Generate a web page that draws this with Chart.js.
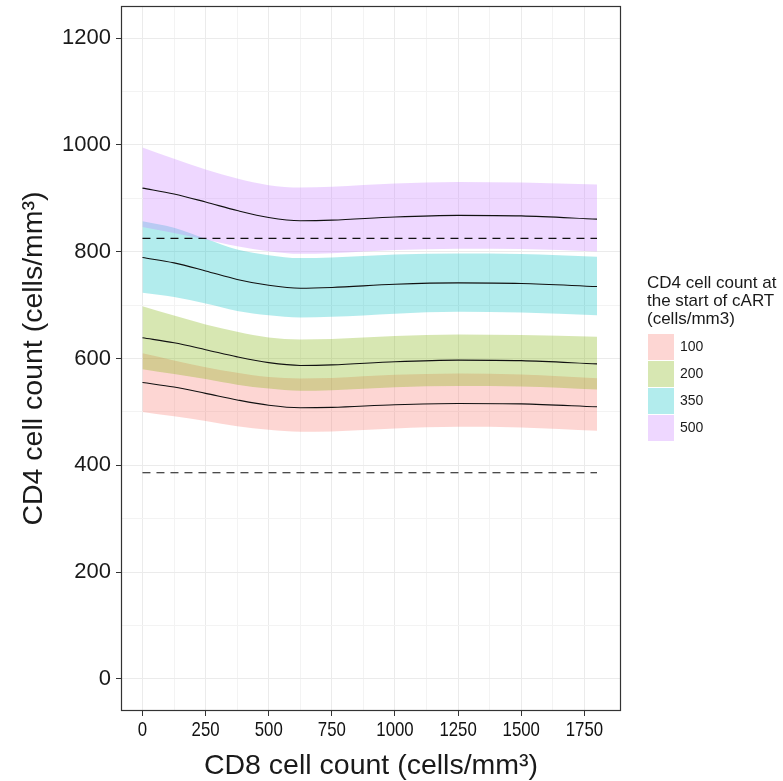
<!DOCTYPE html>
<html>
<head>
<meta charset="utf-8">
<script src="https://cdn.jsdelivr.net/npm/chart.js@4.4.1/dist/chart.umd.min.js"></script>
<style>
  html, body { margin: 0; padding: 0; background: #fff; }
  #wrap { position: relative; width: 783px; height: 781px; }
  #legend { position: absolute; left: 647px; top: 274px; font-family: 'Liberation Sans', Arial, sans-serif; color: #1a1a1a; }
  #legend .title { font-size: 17px; line-height: 18px; white-space: nowrap; }
  #legend .row { position: relative; height: 27px; }
  #legend .key { position: absolute; left: 0; top: 0; width: 26px; height: 26px; border: 0.5px solid #fff; }
  #legend .lab { position: absolute; left: 33px; top: 0; line-height: 27px; font-size: 14px; }
</style>
</head>
<body>
<div id="wrap">
  <canvas id="chart" width="783" height="781"></canvas>
  <div id="legend"></div>
</div>
<script>
// ── Data ─────────────────────────────────────────────────────────────────
var cd8 = [0, 125, 250, 375, 500, 625, 750, 1000, 1250, 1500, 1800];

var groups = ['100', '200', '350', '500'];

var mid100 = [555, 546.5, 534.7, 522.4, 512.4, 507.7, 508.5, 513.5, 515.8, 515, 509.6];
var lo100  = [500, 491.8, 482.9, 473.2, 466.5, 462.8, 463.5, 469, 472, 471, 464.7];
var hi100  = [609.6, 596.4, 583.8, 573.4, 565.4, 562.6, 563.5, 569.5, 572, 570, 563];

var mid200 = [638.7, 629.4, 616.5, 603, 592.2, 587, 588, 594, 597, 596, 590];
var lo200  = [580, 571, 561.4, 550.8, 543.6, 539.5, 540.5, 546, 548.3, 547.5, 542];
var hi200  = [698, 680.5, 663.7, 650, 639.3, 635.6, 636.5, 642, 645, 644, 640.6];

var mid350 = [789, 779, 764, 748, 737, 731.6, 733, 739, 741.6, 740.5, 734.7];
var lo350  = [723, 715, 703, 689, 681, 677, 678, 684, 687.3, 686, 681];
var hi350  = [857, 845, 824, 804, 793.4, 788, 789, 794.5, 796.5, 795.5, 790.3];

var mid500 = [919, 908, 893, 877, 864, 858, 859, 865, 868, 867, 861];
var lo500  = [846, 835, 823, 810, 801, 796, 797, 803, 805.5, 805, 800.5];
var hi500  = [995, 974, 954, 937, 924.5, 920, 921.5, 927.5, 930.6, 929.5, 925.6];

var refLevels = [825, 386];

var xTicks = [0, 250, 500, 750, 1000, 1250, 1500, 1750];
var yTicks = [0, 200, 400, 600, 800, 1000, 1200];

var legendTitle = ['CD4 cell count at', 'the start of cART', '(cells/mm3)'];
var xTitle = 'CD8 cell count (cells/mm\u00B3)';
var yTitle = 'CD4 cell count (cells/mm\u00B3)';

// ── Styling ──────────────────────────────────────────────────────────────
var fills = ['rgba(248,118,109,0.3)', 'rgba(124,174,0,0.3)', 'rgba(0,191,196,0.3)', 'rgba(199,124,255,0.3)'];
var bands = [[lo100, hi100, mid100], [lo200, hi200, mid200], [lo350, hi350, mid350], [lo500, hi500, mid500]];
var regular = "'Liberation Sans', Arial, sans-serif";

function pts(ys) {
  return cd8.map(function (x, i) { return { x: x, y: ys[i] }; });
}

// major ticks plus a minor line half-way between each pair
function withMinor(majors) {
  var out = [];
  majors.forEach(function (v, i) {
    out.push(v);
    if (i < majors.length - 1) out.push((v + majors[i + 1]) / 2);
  });
  return out;
}

var datasets = [];
bands.forEach(function (b, g) {
  var base = datasets.length;
  datasets.push({
    data: pts(b[0]), borderWidth: 0, pointRadius: 0, fill: false,
    cubicInterpolationMode: 'monotone', order: 20 - g
  });
  datasets.push({
    data: pts(b[1]), borderWidth: 0, pointRadius: 0,
    fill: { target: base }, backgroundColor: fills[g],
    cubicInterpolationMode: 'monotone', order: 20 - g
  });
});
bands.forEach(function (b) {
  datasets.push({
    data: pts(b[2]), borderColor: '#111', borderWidth: 1.1, pointRadius: 0, fill: false,
    cubicInterpolationMode: 'monotone', order: 2
  });
});
refLevels.forEach(function (lv) {
  datasets.push({
    data: [{ x: cd8[0], y: lv }, { x: cd8[cd8.length - 1], y: lv }],
    borderColor: '#111', borderWidth: 1.1, borderDash: [8, 6], pointRadius: 0, fill: false, order: 1
  });
});

var panelBorder = {
  id: 'panelBorder',
  afterDatasetsDraw: function (chart) {
    var a = chart.chartArea, ctx = chart.ctx;
    ctx.save();
    ctx.strokeStyle = '#333';
    ctx.lineWidth = 1.2;
    ctx.strokeRect(Math.round(a.left) + 0.5, Math.round(a.top) + 0.5,
      Math.round(a.right - a.left) - 1, Math.round(a.bottom - a.top) - 1);
    ctx.restore();
  }
};

// x tick labels in a condensed face (no narrow font installed, so squeeze)
var narrowXLabels = {
  id: 'narrowXLabels',
  afterDraw: function (chart) {
    var sx = chart.scales.x, ctx = chart.ctx, squeeze = 0.8;
    var y = chart.chartArea.bottom + 25;
    ctx.save();
    ctx.font = '21px ' + regular;
    ctx.fillStyle = '#111';
    ctx.textAlign = 'center';
    ctx.textBaseline = 'alphabetic';
    xTicks.forEach(function (v) {
      var px = sx.getPixelForValue(v);
      ctx.save();
      ctx.translate(px, y);
      ctx.scale(squeeze, 1);
      ctx.fillText(String(v), 0, 0);
      ctx.restore();
    });
    ctx.restore();
  }
};

new Chart(document.getElementById('chart'), {
  type: 'line',
  data: { datasets: datasets },
  options: {
    responsive: false,
    animation: false,
    layout: { padding: { top: 6, right: 162, left: 0, bottom: 0 } },
    plugins: { legend: { display: false }, tooltip: { enabled: false } },
    scales: {
      x: {
        type: 'linear', min: -85, max: 1895,
        afterBuildTicks: function (s) { s.ticks = withMinor(xTicks).map(function (v) { return { value: v }; }); },
        afterFit: function (s) { s.height = 70; s.paddingLeft = 0; s.paddingRight = 0; },
        ticks: {
          autoSkip: false, maxRotation: 0, padding: 3, color: 'rgba(0,0,0,0)',
          font: { family: regular, size: 17 },
          callback: function (v) { return xTicks.indexOf(v) >= 0 ? String(v) : ''; }
        },
        grid: {
          color: function (c) { return xTicks.indexOf(c.tick.value) >= 0 ? '#ebebeb' : '#f3f3f3'; },
          tickColor: function (c) { return xTicks.indexOf(c.tick.value) >= 0 ? '#333' : 'rgba(0,0,0,0)'; },
          tickLength: 5, lineWidth: 1
        },
        border: { display: false },
        title: {
          display: true, text: xTitle, color: '#1a1a1a',
          font: { family: regular, size: 28.5 }, padding: { top: 0, bottom: -2 }
        }
      },
      y: {
        type: 'linear', min: -60, max: 1260,
        afterBuildTicks: function (s) { s.ticks = withMinor(yTicks).map(function (v) { return { value: v }; }); },
        afterFit: function (s) { s.width = 121; s.paddingTop = 0; s.paddingBottom = 0; },
        ticks: {
          autoSkip: false, padding: 5, color: '#1a1a1a',
          font: { family: regular, size: 22 },
          callback: function (v) { return yTicks.indexOf(v) >= 0 ? String(v) : ''; }
        },
        grid: {
          color: function (c) { return yTicks.indexOf(c.tick.value) >= 0 ? '#ebebeb' : '#f3f3f3'; },
          tickColor: function (c) { return yTicks.indexOf(c.tick.value) >= 0 ? '#333' : 'rgba(0,0,0,0)'; },
          tickLength: 5, lineWidth: 1
        },
        border: { display: false },
        title: {
          display: true, text: yTitle, color: '#1a1a1a',
          font: { family: regular, size: 28.5 }, padding: { top: 17, bottom: 0 }
        }
      }
    }
  },
  plugins: [panelBorder, narrowXLabels]
});

// ── Legend ───────────────────────────────────────────────────────────────
(function () {
  var el = document.getElementById('legend');
  var html = '<div class="title">' + legendTitle.join('<br>') + '</div><div style="height:5px"></div>';
  groups.forEach(function (g, i) {
    html += '<div class="row"><div class="key" style="background:' + fills[i] + '"></div>' +
            '<div class="lab">' + g + '</div></div>';
  });
  el.innerHTML = html;
}());
</script>
</body>
</html>
